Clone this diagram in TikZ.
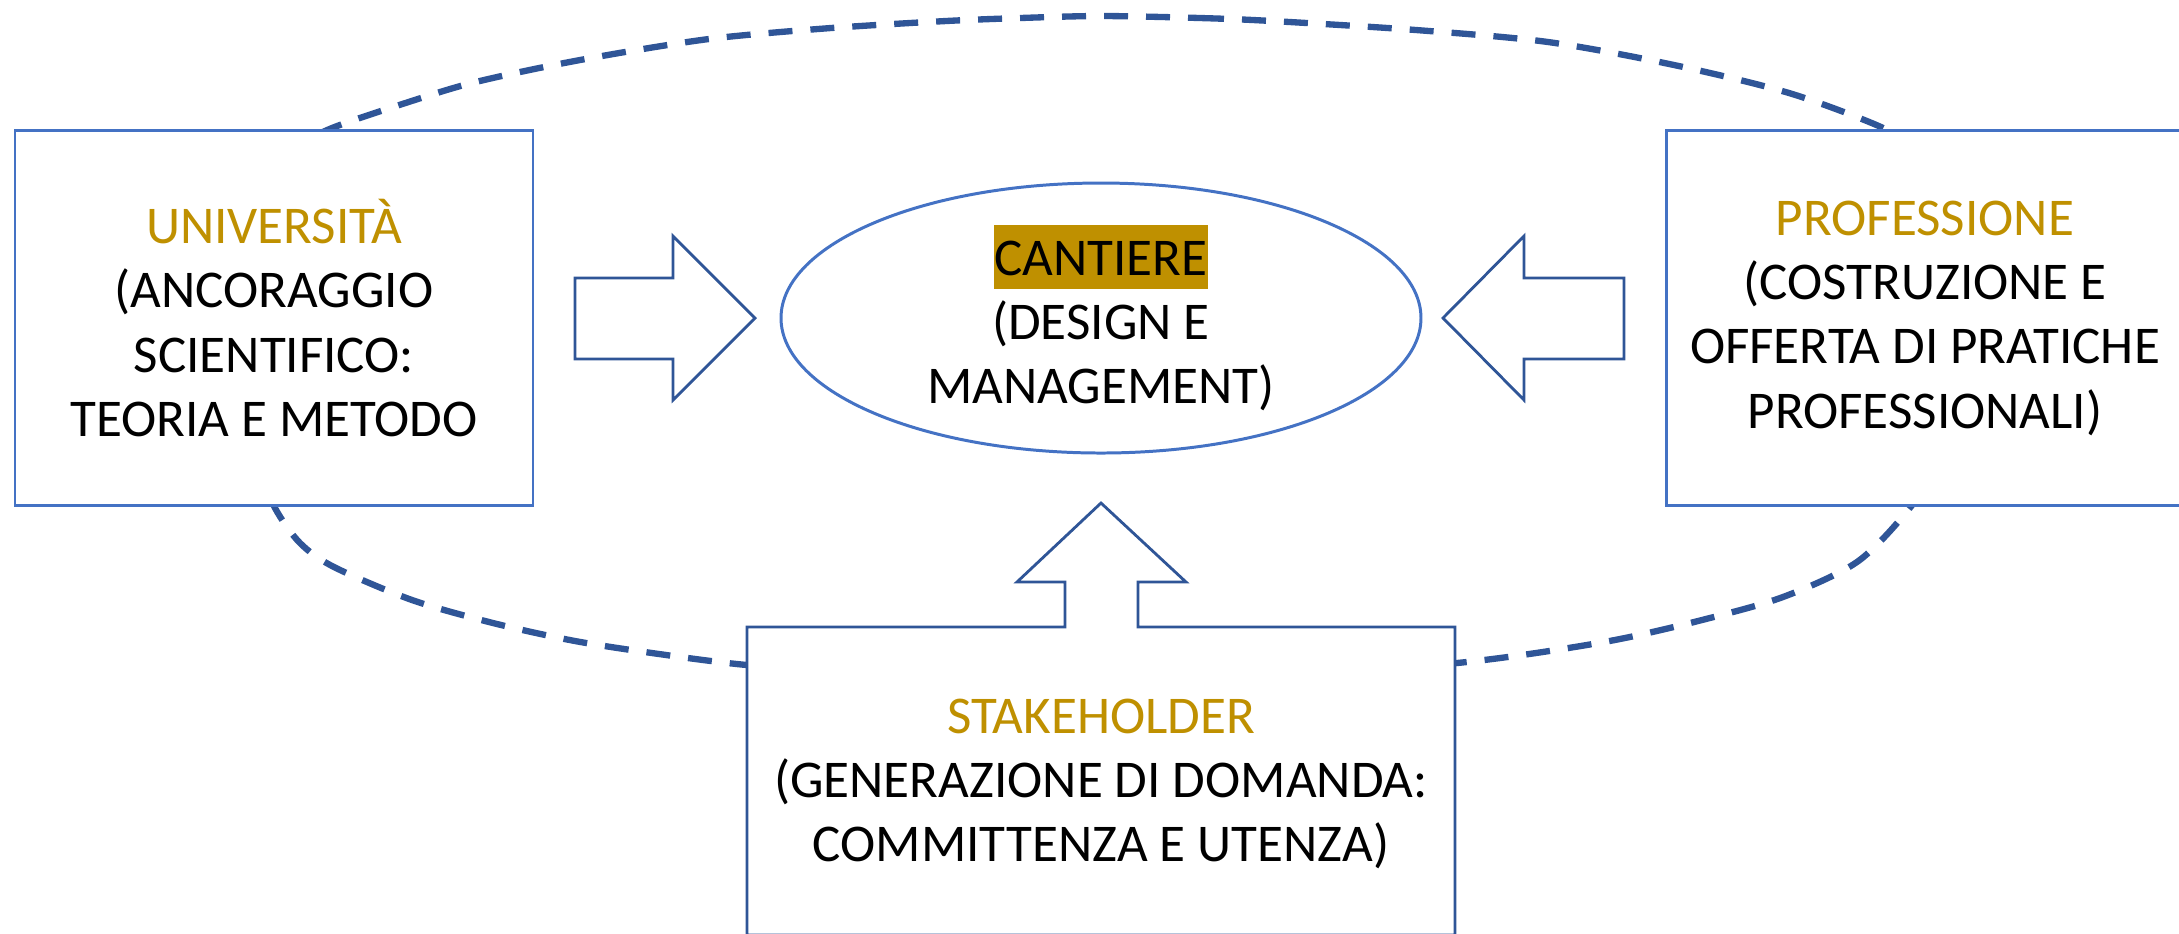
\documentclass[tikz,border=0pt]{standalone}
\usepackage{fontspec}
\setmainfont{Carlito}
\usetikzlibrary{shapes.geometric}
\definecolor{boxblue}{HTML}{4472C4}
\definecolor{darkblue}{HTML}{2F5597}
\definecolor{gold}{HTML}{BF9000}
\setlength{\fboxsep}{0pt}
\newcommand{\hl}[1]{\textcolor{gold}{#1}}

\begin{document}
\begin{tikzpicture}[x=0.1mm,y=-0.1mm]
\tikzstyle{txt}=[align=center, inner sep=0pt, font=\fontsize{15.1}{18.3}\selectfont]
\tikzstyle{sidebox}=[txt, rectangle, draw=boxblue, fill=white, line width=0.85pt,
                        minimum width=51.8mm, minimum height=37.5mm]
\tikzstyle{arw}=[draw=darkblue, fill=white, line width=0.8pt, line join=miter]
\tikzstyle{dashring}=[darkblue, line width=1.8pt, dash pattern=on 2.4mm off 1.8mm]
\useasboundingbox (0,0) rectangle (2179,933);
\draw[dashring] plot[smooth cycle] coordinates {
  (1101,16) (1200,18) (1272,21) (1416,30) (1548,42) (1674,65) (1789,93) (1881,127)
  (1915,150) (1940,185) (1955,240) (1960,330) (1955,410) (1940,460) (1909,509)
  (1857,562) (1783,597) (1702,620) (1620,639) (1536,653) (1457,663) (1350,671)
  (1230,677) (1101,680) (970,677) (850,671) (747,665) (659,654) (575,641) (493,623)
  (412,600) (334,567) (300,543) (275,508) (258,465) (246,410) (241,340) (245,270)
  (258,205) (280,165) (305,142) (332,128) (384,110) (464,85) (544,67) (625,52)
  (717,38) (831,28) (946,21) (1020,18)};
	\node[sidebox] (U) at (274,318){\hl{UNIVERSITÀ}\\(ANCORAGGIO\\SCIENTIFICO:\\TEORIA E METODO};
	\node[sidebox] (P) at (1925,318){\hl{PROFESSIONE}\\(COSTRUZIONE E\\OFFERTA DI PRATICHE\\PROFESSIONALI)};
	\node[txt, ellipse, draw=boxblue, fill=white, line width=0.85pt,
	      minimum width=64mm, minimum height=27mm] (C) at (1101,318)
	      {\colorbox{gold}{\rule[-1.4mm]{0pt}{6.4mm}CANTIERE}\\(DESIGN E\\MANAGEMENT)};
\draw[arw] (575,278)--(673,278)--(673,236)--(755,318)--(673,400)--(673,359)--(575,359)--cycle;
\draw[arw] (1624,278)--(1524,278)--(1524,236)--(1443,318)--(1524,400)--(1524,359)--(1624,359)--cycle;
\draw[arw] (747,627)--(1065,627)--(1065,582)--(1017,582)--(1101,503)--(1186,582)--(1138,582)
           --(1138,627)--(1455,627)--(1455,935)--(747,935)--cycle;
	\node[txt] (S) at (1101,784){\hl{STAKEHOLDER}\\(GENERAZIONE DI DOMANDA:\\COMMITTENZA E UTENZA)};
\end{tikzpicture}
\end{document}
